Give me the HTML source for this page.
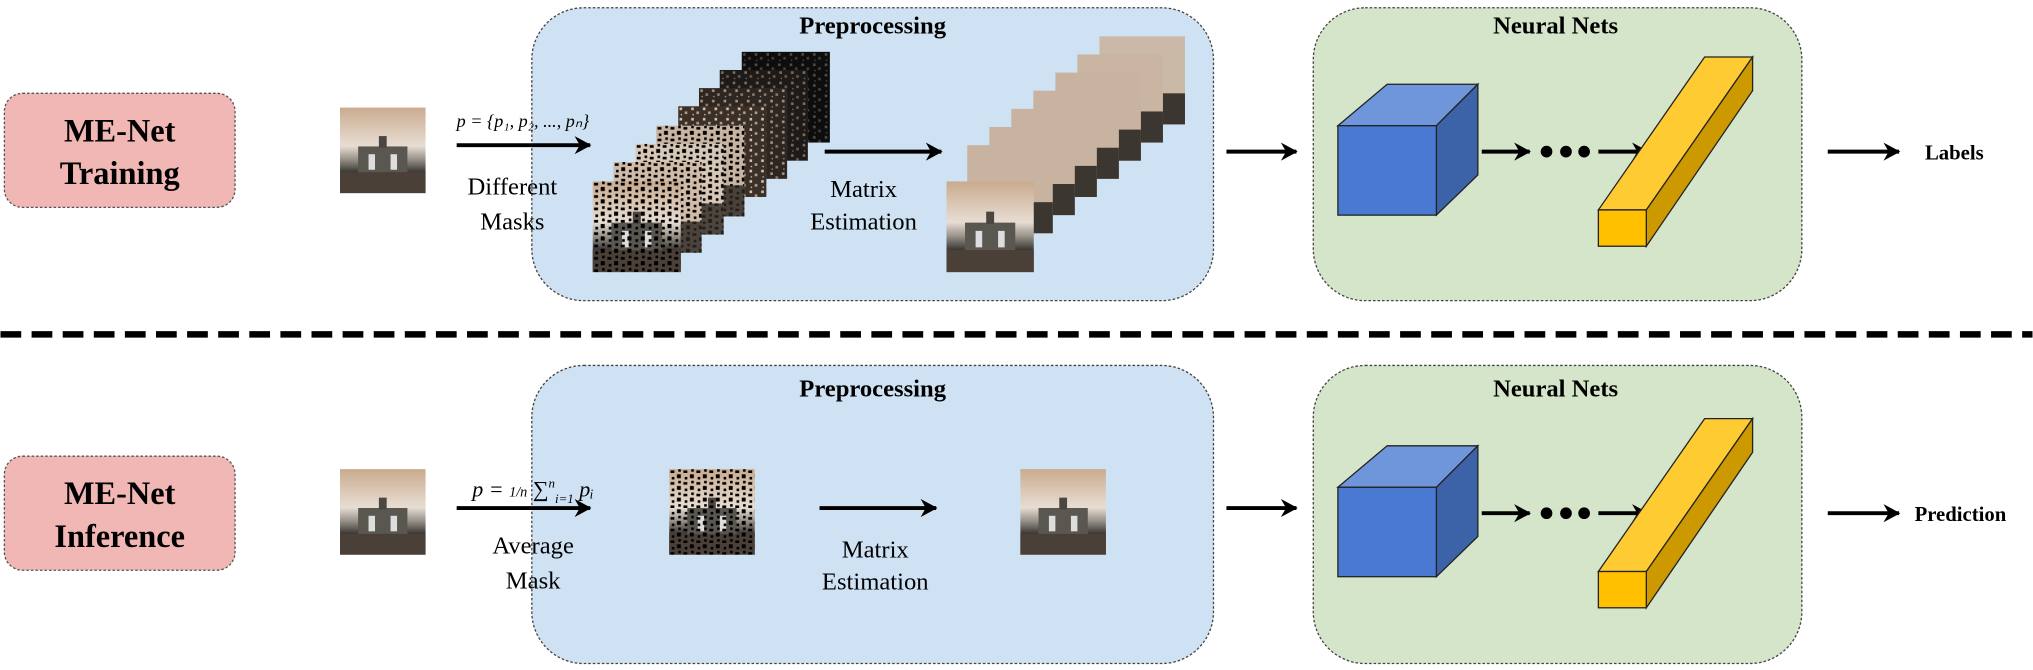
<!DOCTYPE html>
<html><head><meta charset="utf-8"><style>
html,body{margin:0;padding:0;background:#fff;}
svg{display:block;}
text{font-family:"Liberation Serif",serif;fill:#000;}
.b{font-weight:bold;}
</style></head><body>
<svg width="2033" height="670" viewBox="0 0 1568 517" xmlns="http://www.w3.org/2000/svg">
<defs>
<linearGradient id="sky" x1="0" y1="0" x2="0" y2="1">
<stop offset="0" stop-color="#c9ab8e"/><stop offset="0.45" stop-color="#e8ddd3"/><stop offset="0.6" stop-color="#9a948c"/><stop offset="0.75" stop-color="#3d3a36"/><stop offset="1" stop-color="#4a3c32"/>
</linearGradient>
<pattern id="noise" width="10" height="9" patternUnits="userSpaceOnUse">
<rect x="1" y="1" width="3" height="2" fill="#000"/><rect x="6" y="4" width="3" height="3" fill="#000"/><rect x="2" y="6" width="2" height="2" fill="#000"/><rect x="7" y="0" width="2" height="2" fill="#000"/>
</pattern>
<pattern id="specks" width="9" height="8" patternUnits="userSpaceOnUse">
<rect x="1" y="1" width="2" height="2" fill="#d8c2ae"/><rect x="5" y="4" width="2" height="2" fill="#b8a08a"/><rect x="2" y="6" width="1" height="1" fill="#e0d0c0"/>
</pattern>
<g id="photo">
<rect width="66" height="66" fill="url(#sky)"/>
<rect x="14" y="30" width="38" height="20" fill="#5a5650"/>
<rect x="22" y="36" width="5" height="12" fill="#ddd"/><rect x="39" y="36" width="5" height="12" fill="#ddd"/>
<rect x="30" y="22" width="6" height="9" fill="#4a4642"/>
<rect x="0" y="50" width="66" height="16" fill="#4b4038"/>
</g>
<g id="mphoto"><use href="#photo"/><rect width="66" height="66" fill="url(#noise)"/></g>
<marker id="ah" markerWidth="14" markerHeight="14" refX="12" refY="7" orient="auto" markerUnits="userSpaceOnUse"><path d="M0,0 L13,7 L0,14 L4,7 Z" fill="#000"/></marker>
</defs>

<!-- top row -->
<rect x="3" y="72" width="178" height="88" rx="14" fill="#f0b7b5" stroke="#555" stroke-dasharray="2,1.5"/>
<text x="92" y="109" font-size="25" class="b" text-anchor="middle">ME-Net</text>
<text x="92" y="142" font-size="25" class="b" text-anchor="middle">Training</text>
<rect x="410" y="6" width="526" height="226" rx="40" fill="#cfe2f3" stroke="#444" stroke-dasharray="2,1.5"/>
<text x="673" y="26" font-size="19" class="b" text-anchor="middle">Preprocessing</text>
<rect x="1013" y="6" width="377" height="226" rx="40" fill="#d5e5c9" stroke="#444" stroke-dasharray="2,1.5"/>
<text x="1200" y="26" font-size="19" class="b" text-anchor="middle">Neural Nets</text>
<use href="#photo" x="262" y="83"/>
<text x="352" y="98" font-size="14" font-style="italic">p = {p₁, p₂, ..., pₙ}</text>
<line x1="352" y1="112" x2="455" y2="112" stroke="#000" stroke-width="3" marker-end="url(#ah)"/>
<text x="395" y="150" font-size="19" text-anchor="middle">Different</text>
<text x="395" y="177" font-size="19" text-anchor="middle">Masks</text>
<g>
<g transform="translate(572,40)"><rect width="68" height="70" fill="#0d0d0d"/><rect width="68" height="70" fill="url(#specks)" opacity="0.35"/></g>
<g transform="translate(555,54)"><rect width="68" height="70" fill="#1e1a17"/><rect width="68" height="70" fill="url(#specks)" opacity="0.5"/></g>
<g transform="translate(539,68)"><rect width="68" height="70" fill="#2e2620"/><rect width="68" height="70" fill="url(#specks)" opacity="0.7"/></g>
<g transform="translate(523,82)"><rect width="68" height="70" fill="#3a3028"/><rect width="68" height="70" fill="url(#specks)"/></g>
<g transform="translate(506,97)"><rect width="68" height="70" fill="#c8b4a2"/><rect width="68" height="70" fill="url(#noise)"/><rect y="46" width="68" height="24" fill="#2a2520" opacity="0.8"/></g>
<g transform="translate(490,111)"><rect width="68" height="70" fill="#d8c8b8"/><rect width="68" height="70" fill="url(#noise)"/><rect y="46" width="68" height="24" fill="#2a2520" opacity="0.8"/></g>
<g transform="translate(473,125)"><rect width="68" height="70" fill="#d0bca8"/><rect width="68" height="70" fill="url(#noise)"/><rect y="46" width="68" height="24" fill="#2a2520" opacity="0.8"/></g>
<g transform="translate(457,140) scale(1.03,1.06)"><use href="#mphoto"/></g>
</g>
<line x1="636" y1="117" x2="726" y2="117" stroke="#000" stroke-width="3" marker-end="url(#ah)"/>
<text x="666" y="152" font-size="19" text-anchor="middle">Matrix</text>
<text x="666" y="177" font-size="19" text-anchor="middle">Estimation</text>
<g>
<g transform="translate(848,28)"><rect width="66" height="68" fill="#cbb9a8"/><rect y="44" width="66" height="24" fill="#3c3630"/></g>
<g transform="translate(831,42)"><rect width="66" height="68" fill="#c9b5a2"/><rect y="44" width="66" height="24" fill="#3c3630"/></g>
<g transform="translate(814,56)"><rect width="66" height="68" fill="#c8b3a0"/><rect y="44" width="66" height="24" fill="#3c3630"/></g>
<g transform="translate(797,70)"><rect width="66" height="68" fill="#c8b3a0"/><rect y="44" width="66" height="24" fill="#3c3630"/></g>
<g transform="translate(780,84)"><rect width="66" height="68" fill="#c8b3a0"/><rect y="44" width="66" height="24" fill="#3c3630"/></g>
<g transform="translate(763,98)"><rect width="66" height="68" fill="#c8b3a0"/><rect y="44" width="66" height="24" fill="#3c3630"/></g>
<g transform="translate(746,112)"><rect width="66" height="68" fill="#c8b3a0"/><rect y="44" width="66" height="24" fill="#3c3630"/></g>
<g transform="translate(730,140) scale(1.02,1.06)"><use href="#photo"/></g>
</g>
<line x1="946" y1="117" x2="1000" y2="117" stroke="#000" stroke-width="3" marker-end="url(#ah)"/>
<g id="nn">
<path d="M1032,97 L1070,65 L1140,65 L1108,97 Z" fill="#6f96db" stroke="#222" stroke-width="1"/>
<path d="M1108,97 L1140,65 L1140,135 L1108,166 Z" fill="#3c62a8" stroke="#222" stroke-width="1"/>
<rect x="1032" y="97" width="76" height="69" fill="#4a79d1" stroke="#222" stroke-width="1"/>
<line x1="1143" y1="117" x2="1180" y2="117" stroke="#000" stroke-width="3" marker-end="url(#ah)"/>
<circle cx="1193" cy="117" r="4.5"/><circle cx="1208" cy="117" r="4.5"/><circle cx="1222" cy="117" r="4.5"/>
<line x1="1233" y1="117" x2="1271" y2="117" stroke="#000" stroke-width="3" marker-end="url(#ah)"/>
<path d="M1233,162 L1315,44 L1352,44 L1270,162 Z" fill="#fecb33" stroke="#222" stroke-width="1"/>
<path d="M1270,162 L1352,44 L1352,70 L1270,190 Z" fill="#cc9900" stroke="#222" stroke-width="1"/>
<rect x="1233" y="162" width="37" height="28" fill="#ffc000" stroke="#222" stroke-width="1"/>
</g>
<line x1="1410" y1="117" x2="1465" y2="117" stroke="#000" stroke-width="3" marker-end="url(#ah)"/>
<text x="1485" y="123" font-size="16" class="b">Labels</text>

<line x1="0" y1="258" x2="1568" y2="258" stroke="#000" stroke-width="5" stroke-dasharray="16,8"/>

<!-- bottom row -->
<rect x="3" y="352" width="178" height="88" rx="14" fill="#f0b7b5" stroke="#555" stroke-dasharray="2,1.5"/>
<text x="92" y="389" font-size="25" class="b" text-anchor="middle">ME-Net</text>
<text x="92" y="422" font-size="25" class="b" text-anchor="middle">Inference</text>
<rect x="410" y="282" width="526" height="230" rx="40" fill="#cfe2f3" stroke="#444" stroke-dasharray="2,1.5"/>
<text x="673" y="306" font-size="19" class="b" text-anchor="middle">Preprocessing</text>
<rect x="1013" y="282" width="377" height="230" rx="40" fill="#d5e5c9" stroke="#444" stroke-dasharray="2,1.5"/>
<text x="1200" y="306" font-size="19" class="b" text-anchor="middle">Neural Nets</text>
<use href="#photo" x="262" y="362"/>
<text x="364" y="383" font-size="17" font-style="italic">p = <tspan font-size="11">1/n</tspan> <tspan font-style="normal">∑</tspan><tspan font-size="10" dy="-7">n</tspan><tspan font-size="10" dy="12">i=1</tspan><tspan dy="-5"> pᵢ</tspan></text>
<line x1="352" y1="392" x2="455" y2="392" stroke="#000" stroke-width="3" marker-end="url(#ah)"/>
<text x="411" y="427" font-size="19" text-anchor="middle">Average</text>
<text x="411" y="454" font-size="19" text-anchor="middle">Mask</text>
<use href="#mphoto" x="516" y="362"/>
<line x1="632" y1="392" x2="722" y2="392" stroke="#000" stroke-width="3" marker-end="url(#ah)"/>
<text x="675" y="430" font-size="19" text-anchor="middle">Matrix</text>
<text x="675" y="455" font-size="19" text-anchor="middle">Estimation</text>
<use href="#photo" x="787" y="362"/>
<line x1="946" y1="392" x2="1000" y2="392" stroke="#000" stroke-width="3" marker-end="url(#ah)"/>
<use href="#nn" y="279"/>
<line x1="1410" y1="396" x2="1465" y2="396" stroke="#000" stroke-width="3" marker-end="url(#ah)"/>
<text x="1477" y="402" font-size="16" class="b">Prediction</text>
</svg>
</body></html>
